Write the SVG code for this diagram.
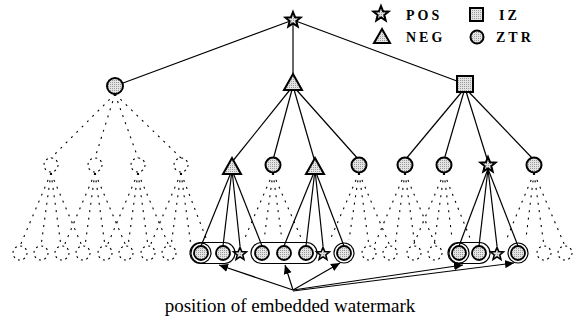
<svg xmlns="http://www.w3.org/2000/svg" xmlns:xlink="http://www.w3.org/1999/xlink" width="575" height="322" viewBox="0 0 575 322">
  <defs>
    <pattern id="stipple" width="2" height="2" patternUnits="userSpaceOnUse">
      <rect width="2" height="2" fill="#e4e4e4"/>
      <rect width="1" height="1" fill="#9a9a9a"/>
    </pattern>
    <path id="star" d="M0,-8 L2.06,-2.83 L7.61,-2.47 L3.33,1.08 L4.7,6.47 L0,3.5 L-4.7,6.47 L-3.33,1.08 L-7.61,-2.47 L-2.06,-2.83 Z"/>
    <path id="tri" d="M0,-9 L9,7 L-9,7 Z"/>
    <marker id="head" viewBox="0 0 10 10" refX="10" refY="5" markerWidth="9" markerHeight="9" markerUnits="userSpaceOnUse" orient="auto">
      <path d="M0,0.5 L10,5 L0,9.5 Z" fill="#000"/>
    </marker>
  </defs>
  <style>
    .node { fill: url(#stipple); stroke: #000; stroke-width: 2; stroke-linejoin: miter; }
    .leaf { fill: url(#stipple); stroke: #000; stroke-width: 1.8; }
    .edge { stroke: #000; stroke-width: 1.2; fill: none; }
    .dash { stroke: #000; stroke-width: 1.1; fill: none; stroke-dasharray: 2 5.5; }
    .ghost { fill: none; stroke: #000; stroke-width: 1.1; stroke-dasharray: 2 3.5; }
    .ring { fill: none; stroke: #000; stroke-width: 1.2; }
    .arrow { stroke: #000; stroke-width: 1.2; fill: none; marker-end: url(#head); }
    .legend { font-family: "Liberation Serif", "Times New Roman", serif; font-size: 14px; font-weight: bold; letter-spacing: 3px; fill: #000; }
    .caption { font-family: "Liberation Serif", "Times New Roman", serif; font-size: 19px; fill: #000; }
  </style>

  <!-- connectors -->
  <g id="connectors">
    <!-- root to level 1 -->
    <line class="edge" x1="293" y1="20" x2="115" y2="86"/>
    <line class="edge" x1="293" y1="20" x2="293" y2="80"/>
    <line class="edge" x1="293" y1="20" x2="465" y2="84"/>
    <!-- NEG level-1 node to its children -->
    <line class="edge" x1="293" y1="86" x2="232" y2="162"/>
    <line class="edge" x1="293" y1="86" x2="273" y2="160"/>
    <line class="edge" x1="293" y1="86" x2="315" y2="162"/>
    <line class="edge" x1="293" y1="86" x2="359" y2="160"/>
    <!-- IZ level-1 node to its children -->
    <line class="edge" x1="465" y1="88" x2="405" y2="160"/>
    <line class="edge" x1="465" y1="88" x2="444" y2="160"/>
    <line class="edge" x1="465" y1="88" x2="488" y2="162"/>
    <line class="edge" x1="465" y1="88" x2="534" y2="160"/>
    <!-- level 2 to leaves -->
    <line class="edge" x1="232" y1="170" x2="201" y2="246"/>
    <line class="edge" x1="232" y1="170" x2="223" y2="246"/>
    <line class="edge" x1="232" y1="170" x2="240" y2="246"/>
    <line class="edge" x1="232" y1="170" x2="262" y2="246"/>
    <line class="edge" x1="315" y1="170" x2="284" y2="246"/>
    <line class="edge" x1="315" y1="170" x2="306" y2="246"/>
    <line class="edge" x1="315" y1="170" x2="323" y2="246"/>
    <line class="edge" x1="315" y1="170" x2="344" y2="246"/>
    <line class="edge" x1="488" y1="169" x2="459" y2="246"/>
    <line class="edge" x1="488" y1="169" x2="479" y2="246"/>
    <line class="edge" x1="488" y1="169" x2="497" y2="246"/>
    <line class="edge" x1="488" y1="169" x2="518" y2="246"/>

    <!-- zerotree branches (dashed) -->
    <line class="dash" x1="115" y1="94" x2="51" y2="158"/>
    <line class="dash" x1="115" y1="94" x2="95" y2="158"/>
    <line class="dash" x1="115" y1="94" x2="138" y2="158"/>
    <line class="dash" x1="115" y1="94" x2="181" y2="158"/>

    <g id="fan51"><line class="dash" x1="51" y1="173" x2="20" y2="246"/><line class="dash" x1="51" y1="173" x2="41" y2="246"/><line class="dash" x1="51" y1="173" x2="61" y2="246"/><line class="dash" x1="51" y1="173" x2="82" y2="246"/></g>
    <g id="fan95"><line class="dash" x1="95" y1="173" x2="64" y2="246"/><line class="dash" x1="95" y1="173" x2="85" y2="246"/><line class="dash" x1="95" y1="173" x2="105" y2="246"/><line class="dash" x1="95" y1="173" x2="126" y2="246"/></g>
    <g id="fan138"><line class="dash" x1="138" y1="173" x2="107" y2="246"/><line class="dash" x1="138" y1="173" x2="128" y2="246"/><line class="dash" x1="138" y1="173" x2="148" y2="246"/><line class="dash" x1="138" y1="173" x2="169" y2="246"/></g>
    <g id="fan181"><line class="dash" x1="181" y1="173" x2="150" y2="246"/><line class="dash" x1="181" y1="173" x2="171" y2="246"/><line class="dash" x1="181" y1="173" x2="191" y2="246"/><line class="dash" x1="181" y1="173" x2="206" y2="238"/></g>
    <g id="fan273"><line class="dash" x1="273" y1="173" x2="244" y2="240"/><line class="dash" x1="273" y1="173" x2="264" y2="240"/><line class="dash" x1="273" y1="173" x2="282" y2="240"/><line class="dash" x1="273" y1="173" x2="302" y2="240"/></g>
    <g id="fan359"><line class="dash" x1="359" y1="173" x2="330" y2="240"/><line class="dash" x1="359" y1="173" x2="349" y2="240"/><line class="dash" x1="359" y1="173" x2="369" y2="246"/><line class="dash" x1="359" y1="173" x2="390" y2="246"/></g>
    <g id="fan405"><line class="dash" x1="405" y1="173" x2="374" y2="246"/><line class="dash" x1="405" y1="173" x2="395" y2="246"/><line class="dash" x1="405" y1="173" x2="415" y2="246"/><line class="dash" x1="405" y1="173" x2="436" y2="246"/></g>
    <g id="fan444"><line class="dash" x1="444" y1="173" x2="413" y2="246"/><line class="dash" x1="444" y1="173" x2="434" y2="246"/><line class="dash" x1="444" y1="173" x2="452" y2="238"/><line class="dash" x1="444" y1="173" x2="470" y2="238"/></g>
    <g id="fan534"><line class="dash" x1="534" y1="173" x2="507" y2="238"/><line class="dash" x1="534" y1="173" x2="526" y2="238"/><line class="dash" x1="534" y1="173" x2="544" y2="246"/><line class="dash" x1="534" y1="173" x2="565" y2="246"/></g>

    <!-- pointers to the embedding positions -->
    <line class="arrow" x1="293" y1="290" x2="219" y2="265"/>
    <line class="arrow" x1="293" y1="290" x2="285" y2="265"/>
    <line class="arrow" x1="293" y1="290" x2="340" y2="263"/>
    <line class="arrow" x1="293" y1="290" x2="463" y2="265"/>
    <line class="arrow" x1="293" y1="291" x2="514" y2="263"/>
  </g>

  <!-- legend -->
  <g id="legend">
    <use class="node" href="#star" x="381" y="14"/>
    <text class="legend" x="406" y="20">POS</text>
    <rect class="node" x="470" y="8" width="13" height="13"/>
    <text class="legend" x="499" y="20">IZ</text>
    <path class="node" d="M382,29 L390,43 L374,43 Z"/>
    <text class="legend" x="406" y="42">NEG</text>
    <circle class="node" cx="477" cy="37" r="6.5"/>
    <text class="legend" x="496" y="42">ZTR</text>
  </g>

  <!-- root -->
  <g id="root"><use class="node" href="#star" x="293" y="20"/></g>

  <!-- level 1 -->
  <g id="n1-ztr"><circle class="node" cx="115" cy="86" r="8"/></g>
  <g id="n1-neg"><use class="node" href="#tri" x="293" y="83"/></g>
  <g id="n1-iz"><rect class="node" x="457" y="76" width="16" height="16"/></g>

  <!-- level 2 -->
  <g id="n2-a"><circle class="ghost" cx="51" cy="165" r="7"/></g>
  <g id="n2-b"><circle class="ghost" cx="95" cy="165" r="7"/></g>
  <g id="n2-c"><circle class="ghost" cx="138" cy="165" r="7"/></g>
  <g id="n2-d"><circle class="ghost" cx="181" cy="165" r="7"/></g>
  <g id="n2-e"><use class="node" href="#tri" x="232" y="167"/></g>
  <g id="n2-f"><circle class="node" cx="273" cy="165" r="7.5"/></g>
  <g id="n2-g"><use class="node" href="#tri" x="315" y="167"/></g>
  <g id="n2-h"><circle class="node" cx="359" cy="165" r="7.5"/></g>
  <g id="n2-i"><circle class="node" cx="405" cy="165" r="7.5"/></g>
  <g id="n2-j"><circle class="node" cx="444" cy="165" r="7.5"/></g>
  <g id="n2-k"><use class="node" href="#star" x="488" y="165"/></g>
  <g id="n2-l"><circle class="node" cx="534" cy="165" r="7.5"/></g>

  <!-- insignificant leaves -->
  <g id="ghost-leaves">
    <circle class="ghost" cx="20" cy="253" r="7"/>
    <circle class="ghost" cx="41" cy="253" r="7"/>
    <circle class="ghost" cx="62" cy="253" r="7"/>
    <circle class="ghost" cx="83" cy="253" r="7"/>
    <circle class="ghost" cx="105" cy="253" r="7"/>
    <circle class="ghost" cx="126" cy="253" r="7"/>
    <circle class="ghost" cx="148" cy="253" r="7"/>
    <circle class="ghost" cx="169" cy="253" r="7"/>
    <circle class="ghost" cx="369" cy="253" r="7"/>
    <circle class="ghost" cx="390" cy="253" r="7"/>
    <circle class="ghost" cx="414" cy="253" r="7"/>
    <circle class="ghost" cx="435" cy="253" r="7"/>
    <circle class="ghost" cx="544" cy="253" r="7"/>
    <circle class="ghost" cx="565" cy="253" r="7"/>
  </g>

  <!-- leaves -->
  <g id="leaf-1"><circle class="leaf" cx="201" cy="253" r="7"/><circle class="ring" cx="201" cy="253" r="10"/></g>
  <g id="leaf-2"><circle class="leaf" cx="223" cy="253" r="7"/></g>
  <g id="leaf-3"><use class="leaf" href="#star" x="240" y="254" transform="translate(240 254) scale(0.85) translate(-240 -254)"/></g>
  <g id="leaf-4"><circle class="leaf" cx="262" cy="253" r="7"/></g>
  <g id="leaf-5"><circle class="leaf" cx="284" cy="253" r="7"/></g>
  <g id="leaf-6"><circle class="leaf" cx="306" cy="253" r="7"/></g>
  <g id="leaf-7"><use class="leaf" href="#star" x="323" y="254" transform="translate(323 254) scale(0.85) translate(-323 -254)"/></g>
  <g id="leaf-8"><circle class="leaf" cx="344" cy="253" r="7"/><circle class="ring" cx="344" cy="253" r="10"/></g>
  <g id="leaf-9"><circle class="leaf" cx="459" cy="253" r="7"/><circle class="ring" cx="459" cy="253" r="10"/></g>
  <g id="leaf-10"><circle class="leaf" cx="479" cy="253" r="7"/></g>
  <g id="leaf-11"><use class="leaf" href="#star" x="497" y="254" transform="translate(497 254) scale(0.85) translate(-497 -254)"/></g>
  <g id="leaf-12"><circle class="leaf" cx="518" cy="253" r="7"/><circle class="ring" cx="518" cy="253" r="10"/></g>

  <!-- groupings of embedding positions -->
  <g id="groups">
    <rect class="ring" x="190" y="242.5" width="45" height="21" rx="10.5"/>
    <rect class="ring" x="251" y="242.5" width="66" height="21" rx="10.5" stroke-width="0.9"/>
    <rect class="ring" x="448" y="242.5" width="42" height="21" rx="10.5"/>
  </g>

  <text class="caption" x="290" y="312" text-anchor="middle">position of embedded watermark</text>
</svg>
